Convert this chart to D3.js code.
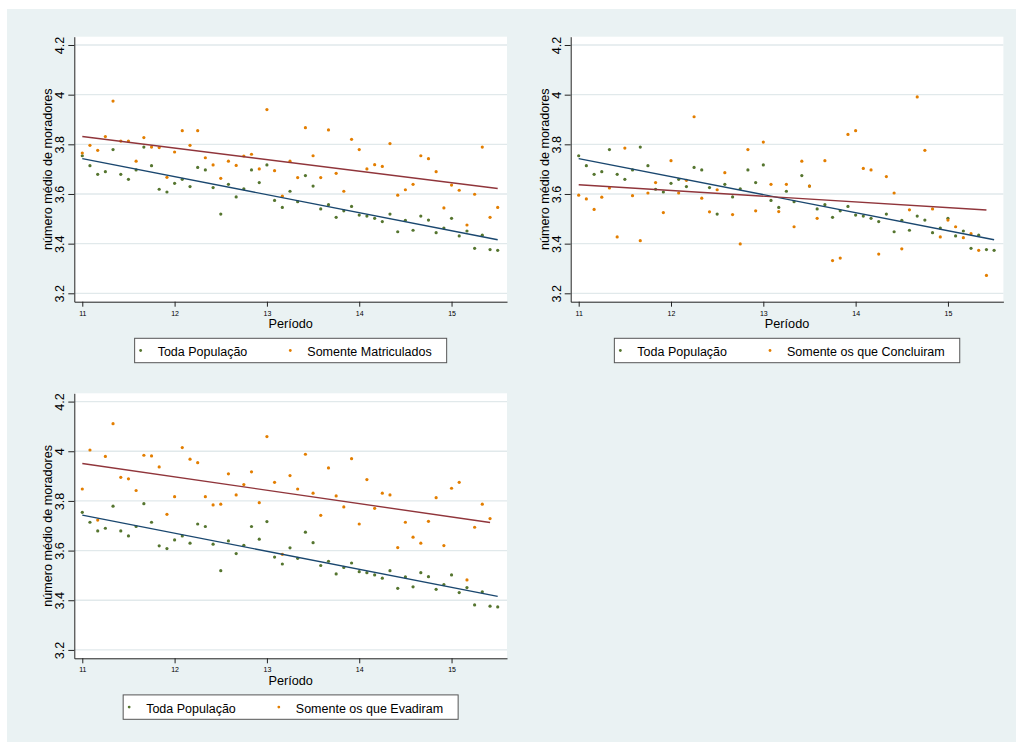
<!DOCTYPE html>
<html><head><meta charset="utf-8">
<script src="https://cdn.jsdelivr.net/npm/d3@7"></script>
<style>
html,body{margin:0;padding:0;background:#fff;}
text{font-family:"Liberation Sans",Arial,Helvetica,sans-serif;fill:#000;}
</style></head>
<body>
<svg id="chart" width="1016" height="742"></svg>
<script>
// ---- data ----
const periods = [11,11.083,11.167,11.25,11.333,11.417,11.5,11.583,11.667,11.75,11.833,11.917,
  12,12.083,12.167,12.25,12.333,12.417,12.5,12.583,12.667,12.75,12.833,12.917,
  13,13.083,13.167,13.25,13.333,13.417,13.5,13.583,13.667,13.75,13.833,13.917,
  14,14.083,14.167,14.25,14.333,14.417,14.5,14.583,14.667,14.75,14.833,14.917,
  15,15.083,15.167,15.25,15.333,15.417,15.5];
const todaPopulacao = [3.754,3.714,3.679,3.690,3.779,3.679,3.659,3.697,3.789,3.714,
  3.619,3.608,3.643,3.659,3.630,3.707,3.697,3.626,3.519,3.639,
  3.588,3.621,3.697,3.646,3.717,3.574,3.546,3.611,3.569,3.674,
  3.632,3.540,3.557,3.506,3.532,3.550,3.515,3.511,3.502,3.489,
  3.519,3.448,3.494,3.454,3.511,3.495,3.444,3.463,3.502,3.431,
  3.451,3.381,3.434,3.376,3.373];
const somenteMatriculados = [3.765,3.796,3.776,3.831,3.974,3.813,3.813,3.732,3.827,3.789,
  3.787,3.667,3.769,3.855,3.796,3.855,3.746,3.717,3.663,3.732,
  3.715,3.753,3.760,3.701,3.940,3.694,3.591,3.732,3.666,3.867,
  3.754,3.666,3.858,3.683,3.611,3.820,3.779,3.701,3.718,3.711,
  3.803,3.595,3.617,3.639,3.754,3.742,3.690,3.544,3.636,3.615,
  3.475,3.599,3.789,3.506,3.546];
const somenteConcluiram = [3.595,3.580,3.538,3.587,3.624,3.427,3.785,3.593,3.412,3.604,
  3.646,3.525,3.734,3.604,3.655,3.911,3.583,3.528,3.617,3.686,
  3.517,3.399,3.779,3.532,3.809,3.639,3.529,3.639,3.468,3.732,
  3.632,3.502,3.734,3.332,3.342,3.840,3.855,3.703,3.697,3.358,
  3.670,3.604,3.379,3.536,3.991,3.776,3.540,3.427,3.495,3.468,
  3.424,3.440,3.373,3.272];
const somenteEvadiram = [3.848,4.005,3.723,3.979,4.111,3.895,3.889,3.842,3.984,3.981,
  3.937,3.746,3.817,4.015,3.968,3.954,3.817,3.784,3.787,3.909,
  3.824,3.866,3.917,3.793,4.059,3.875,3.585,3.902,3.848,3.988,
  3.831,3.742,3.933,3.820,3.776,3.970,3.707,3.886,3.770,3.831,
  3.824,3.612,3.714,3.654,3.630,3.718,3.813,3.620,3.851,3.875,
  3.482,3.694,3.787,3.729];
const xTicks = [11,12,13,14,15];
const yTicks = [3.2,3.4,3.6,3.8,4,4.2];
const yTickLabels = ["3.2","3.4","3.6","3.8","4","4.2"];
const legendLabelAll = "Toda População";
const otherLabels = ["Somente Matriculados","Somente os que Concluiram","Somente os que Evadiram"];
const otherSeries = [somenteMatriculados, somenteConcluiram, somenteEvadiram];
const xTitle = "Período";
const yTitle = "número médio de moradores";

// ---- styles ----
const C = {bg:"#EAF2F3", grid:"#E1E9EB", axis:"#222", green:"#55752F", orange:"#E37E00", navy:"#1A476F", maroon:"#90353B"};
const FONT = "Liberation Sans, Arial, Helvetica, sans-serif";

const svg = d3.select("#chart");
svg.append("rect").attr("x",7).attr("y",9).attr("width",1009).attr("height",733).attr("fill",C.bg);

const PW = 432.7, PH = 265;
const panelPos = [{x:74.3,y:36.7},{x:570.7,y:36.7},{x:74.3,y:393.3}];

function lfit(xs, ys){
  const n = ys.length;
  const xx = xs.slice(0,n);
  const mx = d3.mean(xx), my = d3.mean(ys);
  let sxy=0,sxx=0;
  for(let i=0;i<n;i++){sxy+=(xx[i]-mx)*(ys[i]-my); sxx+=(xx[i]-mx)**2;}
  const b = sxy/sxx, a = my-b*mx;
  const x0 = d3.min(xx), x1 = d3.max(xx);
  return [[x0,a+b*x0],[x1,a+b*x1]];
}

panelPos.forEach((pos,k)=>{
  const g = svg.append("g").attr("transform",`translate(${pos.x},${pos.y})`);
  const x = d3.scaleLinear().domain([10.9134,15.6007]).range([0,PW]);
  const y = d3.scaleLinear().domain([3.1662,4.2334]).range([PH,0]);
  g.append("rect").attr("width",PW).attr("height",PH).attr("fill","#fff");
  g.selectAll("line.grid").data(yTicks).join("line").attr("class","grid")
    .attr("x1",0).attr("x2",PW).attr("y1",d=>y(d)).attr("y2",d=>y(d))
    .attr("stroke",C.grid).attr("stroke-width",1.3);

  const other = otherSeries[k];
  const line = d3.line().x(d=>x(d[0])).y(d=>y(d[1]));

  g.selectAll("circle.all").data(todaPopulacao).join("circle").attr("class","all")
    .attr("cx",(d,i)=>x(periods[i])).attr("cy",d=>y(d)).attr("r",1.6).attr("fill",C.green);
  g.selectAll("circle.oth").data(other).join("circle").attr("class","oth")
    .attr("cx",(d,i)=>x(periods[i])).attr("cy",d=>y(d)).attr("r",1.6).attr("fill",C.orange);

  g.append("path").attr("d",line(lfit(periods,todaPopulacao))).attr("fill","none")
    .attr("stroke",C.navy).attr("stroke-width",1.4);
  g.append("path").attr("d",line(lfit(periods,other))).attr("fill","none")
    .attr("stroke",C.maroon).attr("stroke-width",1.4);

  // y axis
  const ya = g.append("g").call(d3.axisLeft(y).tickValues(yTicks).tickFormat((d,i)=>yTickLabels[i]).tickSize(6).tickSizeOuter(0));
  ya.select(".domain").attr("stroke",C.axis);
  ya.selectAll(".tick line").attr("stroke",C.axis);
  ya.selectAll(".tick text").attr("x",null).attr("dy",null)
    .attr("transform","translate(-10,0) rotate(-90)").attr("text-anchor","middle")
    .style("font-family",FONT).style("font-size","12.6px").attr("fill","#000");

  // x axis
  const xa = g.append("g").attr("transform",`translate(0,${PH})`)
    .call(d3.axisBottom(x).tickValues(xTicks).tickFormat(d3.format("d")).tickSize(5).tickSizeOuter(0).tickPadding(4));
  xa.select(".domain").attr("stroke",C.axis);
  xa.selectAll(".tick line").attr("stroke",C.axis);
  xa.selectAll(".tick text").style("font-family",FONT).style("font-size","7px").attr("fill","#000");

  g.append("text").attr("transform",`translate(-22,${PH/2}) rotate(-90)`).attr("text-anchor","middle")
    .style("font-size","12.6px").text(yTitle);
  g.append("text").attr("x",PW/2).attr("y",PH+26.5).attr("text-anchor","middle")
    .style("font-size","12.7px").text(xTitle);

  // legend
  const lg = g.append("g");
  const box = lg.append("rect").attr("y",PH+36.6).attr("height",24.4).attr("fill","#fff")
    .attr("stroke","#555").attr("stroke-width",1);
  const cy = PH+36.6+12.2, by = PH+36.6+18.2;
  lg.append("circle").attr("cx",6).attr("cy",cy).attr("r",1.4).attr("fill",C.green);
  const t1 = lg.append("text").attr("x",23).attr("y",by).style("font-size","12.5px").text(legendLabelAll);
  const w1 = t1.node().getComputedTextLength();
  const d2 = 23 + w1 + 43;
  lg.append("circle").attr("cx",d2).attr("cy",cy).attr("r",1.4).attr("fill",C.orange);
  const t2 = lg.append("text").attr("x",d2+17).attr("y",by).style("font-size","12.5px").text(otherLabels[k]);
  const w2 = t2.node().getComputedTextLength();
  const bw = d2 + 17 + w2 + 15;
  box.attr("x",0).attr("width",bw);
  lg.attr("transform",`translate(${PW/2 - bw/2},0)`);
});
</script>
</body></html>
